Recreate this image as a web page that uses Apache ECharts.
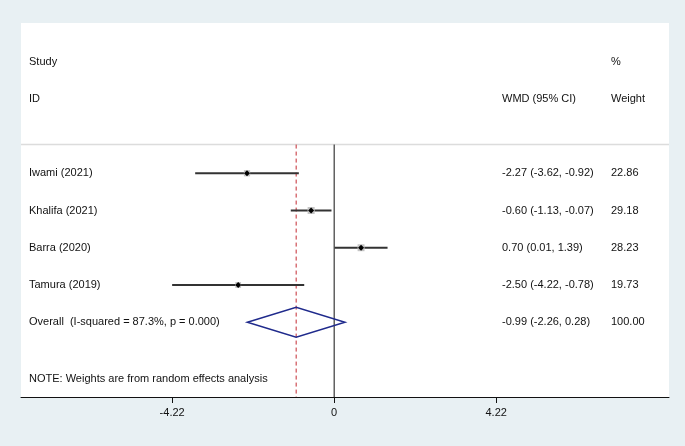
<!DOCTYPE html>
<html>
<head>
<meta charset="utf-8">
<script src="https://cdn.jsdelivr.net/npm/echarts@6/dist/echarts.min.js"></script>
<style>
  html, body { margin: 0; padding: 0; background: #e8f0f3; }
  #chart { width: 685px; height: 446px; }
</style>
</head>
<body>
<div id="chart"></div>
<script>
// study level data
const studies = ['Iwami (2021)', 'Khalifa (2021)', 'Barra (2020)', 'Tamura (2019)']
const wmd = [-2.27, -0.60, 0.70, -2.50]
const ciLow = [-3.62, -1.13, 0.01, -4.22]
const ciHigh = [-0.92, -0.07, 1.39, -0.78]
const weights = [22.86, 29.18, 28.23, 19.73]
const studyRows = [3, 4, 5, 6]

// pooled estimate
const overallLabel = 'Overall  (I-squared = 87.3%, p = 0.000)'
const overallWmd = -0.99
const overallLow = -2.26
const overallHigh = 0.28
const overallWeight = 100.00
const overallRow = 7

const tickValues = [-4.22, 0, 4.22]
const noteText = 'NOTE: Weights are from random effects analysis'

const fmt = (v) => v.toFixed(2)
const ciText = (e, l, h) => fmt(e) + ' (' + fmt(l) + ', ' + fmt(h) + ')'

// text rows: [row, left text, ci text, weight text]
const textRows = [
  [0, 'Study', '', '%'],
  [1, 'ID', 'WMD (95% CI)', 'Weight'],
]
studies.forEach((s, i) => {
  textRows.push([studyRows[i], s, ciText(wmd[i], ciLow[i], ciHigh[i]), fmt(weights[i])])
})
textRows.push([overallRow, overallLabel, ciText(overallWmd, overallLow, overallHigh), fmt(overallWeight)])
textRows.push([8.52, noteText, '', ''])

const studyData = studies.map((s, i) => [wmd[i], ciLow[i], ciHigh[i], studyRows[i], weights[i]])

const chart = echarts.init(document.getElementById('chart'))
const textColor = '#111'
const font = '11px "Liberation Sans", Arial, sans-serif'
const colX = [29, 502, 611]
const lineTop = 2.23

chart.setOption({
  animation: false,
  backgroundColor: '#e8f0f3',
  grid: {
    left: 21, right: 16, top: 23, bottom: 49,
    show: true, backgroundColor: '#fff', borderWidth: 0,
  },
  xAxis: {
    type: 'value',
    min: -8.156,
    max: 8.72,
    splitLine: { show: false },
    axisLine: { show: true, onZero: false, lineStyle: { color: '#111', width: 1 } },
    axisTick: { show: true, customValues: tickValues, length: 6, lineStyle: { color: '#111' } },
    axisLabel: {
      customValues: tickValues,
      color: textColor,
      fontSize: 11,
      fontFamily: '"Liberation Sans", Arial, sans-serif',
      margin: 10,
      formatter: (v) => (v === 0 ? '0' : v.toFixed(2)),
    },
  },
  yAxis: {
    type: 'value',
    inverse: true,
    min: -1.034,
    max: 9.007,
    show: false,
  },
  series: [
    {
      // separator + reference lines
      type: 'custom',
      silent: true,
      data: [[0]],
      renderItem: (params, api) => {
        const y0 = api.coord([0, lineTop])[1]
        const y1 = api.coord([0, 9.007])[1]
        const xNull = api.coord([0, 0])[0]
        const xPool = api.coord([overallWmd, 0])[0]
        return {
          type: 'group',
          children: [
            { type: 'line', shape: { x1: params.coordSys.x, y1: y0, x2: params.coordSys.x + params.coordSys.width, y2: y0 }, style: { stroke: '#dcdcdc', lineWidth: 1.5 } },
            { type: 'line', shape: { x1: xNull, y1: y0, x2: xNull, y2: y1 }, style: { stroke: '#111', lineWidth: 1 } },
            { type: 'line', shape: { x1: xPool, y1: y0, x2: xPool, y2: y1 }, style: { stroke: '#c42b33', lineWidth: 1, lineDash: [4, 3] } },
          ],
        }
      },
      z: 1,
    },
    {
      // study CIs and weight boxes
      type: 'custom',
      silent: true,
      data: studyData,
      renderItem: (params, api) => {
        const p = api.coord([api.value(0), api.value(3)])
        const l = api.coord([api.value(1), api.value(3)])
        const h = api.coord([api.value(2), api.value(3)])
        const side = Math.sqrt(api.value(4)) * 1.3
        return {
          type: 'group',
          children: [
            { type: 'line', shape: { x1: l[0], y1: l[1], x2: h[0], y2: h[1] }, style: { stroke: '#333', lineWidth: 1.8 } },
            { type: 'rect', shape: { x: p[0] - side / 2, y: p[1] - side / 2, width: side, height: side }, style: { fill: '#c4c4c4' } },
            { type: 'polygon', shape: { points: [[p[0] - 3, p[1]], [p[0], p[1] - 3], [p[0] + 3, p[1]], [p[0], p[1] + 3]] }, style: { fill: '#000' } },
          ],
        }
      },
      z: 3,
    },
    {
      // pooled diamond
      type: 'custom',
      silent: true,
      data: [[overallWmd, overallLow, overallHigh, overallRow]],
      renderItem: (params, api) => {
        const row = api.value(3)
        const c = api.coord([api.value(0), row])
        const l = api.coord([api.value(1), row])
        const h = api.coord([api.value(2), row])
        const top = api.coord([0, row - 0.4])[1]
        const bot = api.coord([0, row + 0.4])[1]
        return {
          type: 'polygon',
          shape: { points: [[l[0], c[1]], [c[0], top], [h[0], c[1]], [c[0], bot]] },
          style: { fill: 'none', stroke: '#1f2a8c', lineWidth: 1.5 },
        }
      },
      z: 3,
    },
    {
      // text columns
      type: 'custom',
      silent: true,
      data: textRows.map((r) => [r[0]]),
      renderItem: (params, api) => {
        const r = textRows[params.dataIndex]
        const y = api.coord([0, r[0]])[1]
        const children = []
        for (let k = 0; k < 3; k += 1) {
          if (r[k + 1]) {
            children.push({
              type: 'text',
              style: { x: colX[k], y, text: r[k + 1], font, fill: textColor, textVerticalAlign: 'middle', verticalAlign: 'middle' },
            })
          }
        }
        return { type: 'group', children }
      },
      z: 4,
    },
  ],
})
</script>
</body>
</html>
